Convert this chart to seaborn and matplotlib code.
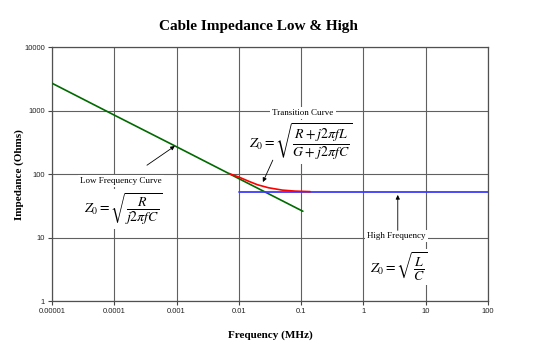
import numpy as np
import pandas as pd
import matplotlib
matplotlib.use('Agg')
import matplotlib.pyplot as plt
import seaborn as sns

# values
freq_low = [1e-5, 1e-4, 1e-3, 1e-2, 0.107]
z_low = [2700, 850, 270, 85, 26]

freq_high = [0.01, 100]
z_high = [52, 52]

freq_trans = [0.007, 0.01, 0.015, 0.02, 0.03, 0.05, 0.08, 0.14]
z_trans = [102, 90, 76, 68, 61, 56, 54, 53]

x_ticks = [1e-5, 1e-4, 1e-3, 1e-2, 1e-1, 1, 10, 100]
x_labels = ['0.00001', '0.0001', '0.001', '0.01', '0.1', '1', '10', '100']
y_ticks = [1, 10, 100, 1000, 10000]
y_labels = ['1', '10', '100', '1000', '10000']

sns.set_theme(style='white')
plt.rcParams['font.family'] = ['Liberation Serif', 'DejaVu Serif']
plt.rcParams['mathtext.fontset'] = 'stix'
plt.rcParams['text.color'] = 'black'
plt.rcParams['axes.labelcolor'] = 'black'

fig = plt.figure(figsize=(5.58, 3.53), dpi=100)
ax = fig.add_axes([0.0932, 0.147, 0.781, 0.7195])

sns.lineplot(x=freq_low, y=z_low, ax=ax, color='#006a00', lw=1.2, zorder=3)
sns.lineplot(x=freq_high, y=z_high, ax=ax, color='#3c3cff', lw=1.3, zorder=3)
sns.lineplot(x=freq_trans, y=z_trans, ax=ax, color='#ff0000', lw=1.2, zorder=4)

ax.set_xscale('log')
ax.set_yscale('log')
ax.set_xlim(1e-5, 100)
ax.set_ylim(1, 10000)
ax.set_xticks(x_ticks)
ax.set_xticklabels(x_labels)
ax.set_yticks(y_ticks)
ax.set_yticklabels(y_labels)
ax.minorticks_off()
ax.tick_params(axis='both', which='major', direction='out', length=3, width=0.8,
               color='#444444', labelsize=5.5, labelcolor='#222222', pad=2,
               bottom=True, left=True)
for lab in ax.get_xticklabels() + ax.get_yticklabels():
    lab.set_family('Liberation Sans')

ax.grid(True, which='major', color='#606060', lw=0.8)
for s in ax.spines.values():
    s.set_color('#505050')
    s.set_linewidth(0.9)

ax.set_xlabel('Frequency (MHz)', fontsize=8, fontweight='bold', labelpad=11)
ax.set_ylabel('Impedance (Ohms)', fontsize=8, fontweight='bold', labelpad=0)
fig.text(0.464, 0.924, 'Cable Impedance Low & High', ha='center', va='center',
         fontsize=11, fontweight='bold')

box = dict(facecolor='white', edgecolor='none', pad=1.5)

# transition curve
ax.text(0.576, 0.740, 'Transition Curve', transform=ax.transAxes, ha='center',
        va='center', fontsize=6.5, bbox=box, zorder=5)
ax.text(0.571, 0.626, r'$Z_0 = \sqrt{\dfrac{R + j2\pi fL}{G + j2\pi fC}}$',
        transform=ax.transAxes, ha='center', va='center', fontsize=10,
        bbox=box, zorder=5)

# low frequency
ax.text(0.158, 0.472, 'Low Frequency Curve', transform=ax.transAxes, ha='center',
        va='center', fontsize=6.5, bbox=box, zorder=5)
ax.text(0.164, 0.362, r'$Z_0 = \sqrt{\dfrac{R}{j2\pi fC}}$',
        transform=ax.transAxes, ha='center', va='center', fontsize=10,
        bbox=box, zorder=5)

# high frequency
ax.text(0.791, 0.256, 'High Frequency', transform=ax.transAxes, ha='center',
        va='center', fontsize=6.5, bbox=box, zorder=5)
ax.text(0.796, 0.134, r'$Z_0 = \sqrt{\dfrac{L}{C}}$',
        transform=ax.transAxes, ha='center', va='center', fontsize=10,
        bbox=box, zorder=5)

arrow = dict(arrowstyle='-|>', color='black', lw=0.6, mutation_scale=6,
             shrinkA=0, shrinkB=0)
ax.annotate('', xy=(0.00094, 277), xytext=(0.000335, 138), arrowprops=arrow, zorder=6)
ax.annotate('', xy=(0.0244, 75), xytext=(0.0352, 166), arrowprops=arrow, zorder=6)
ax.annotate('', xy=(3.58, 47), xytext=(3.58, 13), arrowprops=arrow, zorder=6)

fig.savefig('out.png', dpi=100)
